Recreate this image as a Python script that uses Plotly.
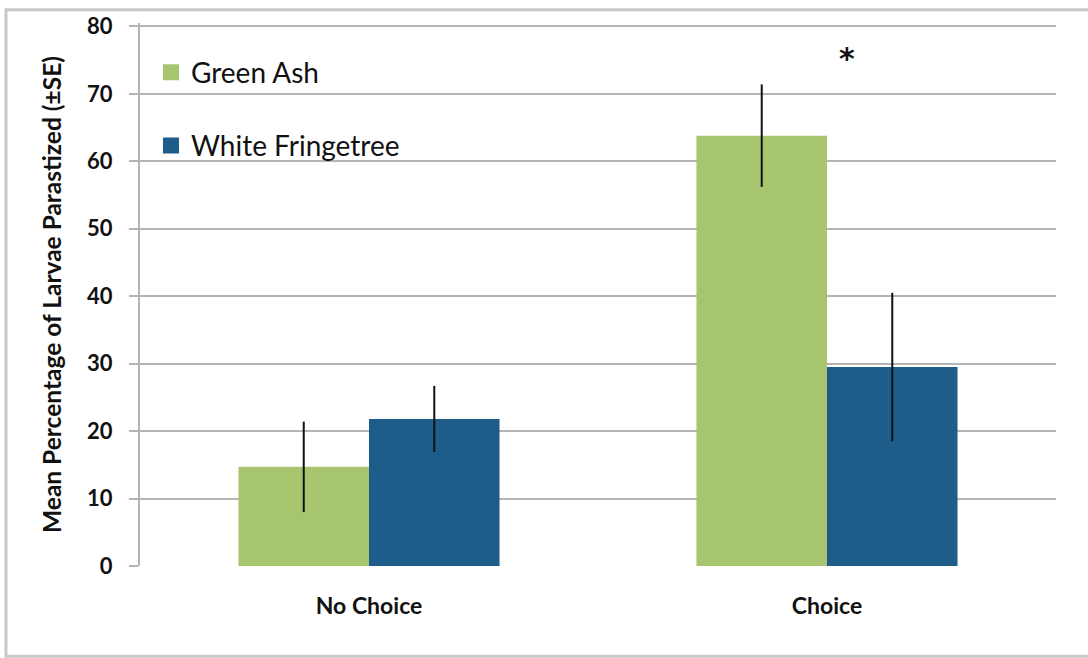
import plotly.graph_objects as go

categories = ["No Choice", "Choice"]
series_names = ["Green Ash", "White Fringetree"]
green_ash = [14.7, 63.8]
green_ash_se = [6.7, 7.6]
white_fringetree = [21.8, 29.5]
white_fringetree_se = [4.9, 11.0]
y_ticks = [0, 10, 20, 30, 40, 50, 60, 70, 80]

GREEN = "#A7C46F"
BLUE = "#1E5C8A"
GRID = "#b4b4b4"
FONT = "Lato"
INK = "#111111"

fig = go.Figure()

for name, vals, se, col in [
    (series_names[0], green_ash, green_ash_se, GREEN),
    (series_names[1], white_fringetree, white_fringetree_se, BLUE),
]:
    fig.add_trace(go.Bar(
        x=categories, y=vals, name=name, marker=dict(color=col, line=dict(width=0)),
        error_y=dict(type="data", array=se, visible=True, color=INK,
                     thickness=2, width=0),
        showlegend=False,
    ))
    # legend entry with a larger square swatch
    fig.add_trace(go.Scatter(
        x=[None], y=[None], mode="markers", name=name,
        marker=dict(symbol="square", size=17, color=col),
        legendgroup=name,
    ))

# significance marker above the Choice group
fig.add_annotation(x="Choice", y=75.3, text="*", showarrow=False,
                   xshift=20, font=dict(family="DejaVu Sans", size=30, color=INK,
                                        weight="bold"))

# white panel behind the legend, hiding the gridlines there
fig.add_shape(type="rect", xref="paper", yref="paper", x0=0.002, x1=0.31,
              y0=0.72, y1=0.975, fillcolor="white", line=dict(width=0),
              layer="between")

# light frame around the figure
fig.add_shape(type="rect", xref="paper", yref="paper", x0=-0.1463, x1=1.1,
              y0=-0.1664, y1=1.0245, fillcolor="rgba(0,0,0,0)",
              line=dict(color="#c8c8c8", width=3), layer="below")

fig.update_layout(
    width=1088, height=658,
    margin=dict(l=140, r=32, t=19, b=92),
    paper_bgcolor="white", plot_bgcolor="white",
    barmode="group", bargap=0.43, bargroupgap=0,
    font=dict(family=FONT, color=INK),
    legend=dict(x=0.012, y=0.955, xanchor="left", yanchor="top",
                bgcolor="rgba(0,0,0,0)", font=dict(family=FONT, size=28, color=INK),
                traceorder="grouped", tracegroupgap=34, itemwidth=30),
    xaxis=dict(showgrid=False, showline=False, ticks="",
               tickvals=categories, ticktext=categories,
               tickfont=dict(family=FONT, size=23, color=INK, weight="bold"),
               ticklabelstandoff=24),
    yaxis=dict(range=[0, 80.5], tickvals=y_ticks, showgrid=True, gridcolor=GRID,
               gridwidth=2, showline=True, linecolor=GRID, linewidth=2,
               ticks="outside", ticklen=9, tickcolor=GRID, tickwidth=2,
               tickfont=dict(family=FONT, size=22, color=INK, weight="bold"),
               ticklabelstandoff=12,
               zeroline=False,
               title=dict(text="Mean Percentage of Larvae Parastized (±SE)",
                          font=dict(family=FONT, size=24.5, color=INK, weight="bold"),
                          standoff=18)),
)

fig.write_html("out.html")
